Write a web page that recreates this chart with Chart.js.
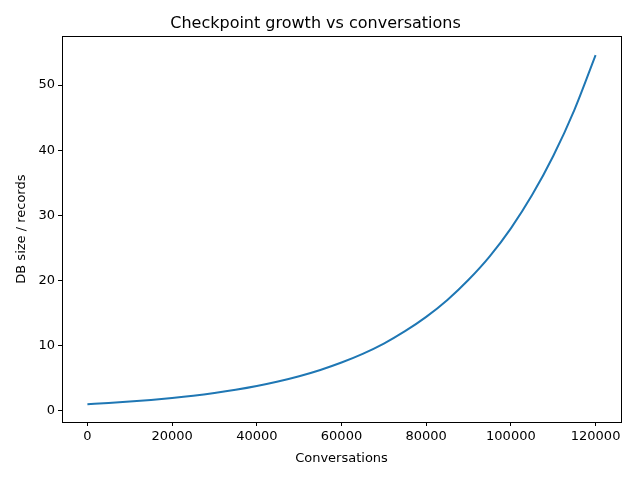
<!DOCTYPE html>
<html>
<head>
<meta charset="utf-8">
<script src="https://cdn.jsdelivr.net/npm/chart.js@4"></script>
<style>
  html, body { margin: 0; padding: 0; background: #fff; }
  #wrap { width: 640px; height: 480px; }
</style>
</head>
<body>
<div id="wrap"><canvas id="ctx" width="640" height="480"></canvas></div>
<script>
// values
const conversations = [0, 5000, 10000, 15000, 20000, 25000, 30000, 35000, 40000, 45000, 50000, 55000, 60000,
  65000, 70000, 75000, 80000, 85000, 90000, 95000, 100000, 105000, 110000, 115000, 120000];
const dbSize = [1.0, 1.18, 1.40, 1.65, 1.95, 2.30, 2.72, 3.21, 3.79, 4.48, 5.29, 6.25, 7.39,
  8.72, 10.3, 12.2, 14.4, 17.0, 20.1, 23.7, 28.0, 33.1, 39.1, 46.2, 54.6];
const xTicks = [0, 20000, 40000, 60000, 80000, 100000, 120000];
const yTicks = [0, 10, 20, 30, 40, 50];

const FONT = "'DejaVu Sans', sans-serif";
Chart.defaults.font.family = FONT;
Chart.defaults.color = "#000";

// matplotlib style frame around the plot area
const frame = {
  id: "frame",
  afterDraw(chart) {
    const { ctx, chartArea: a } = chart;
    ctx.save();
    ctx.strokeStyle = "#000";
    ctx.lineWidth = 1;
    ctx.strokeRect(Math.round(a.left) + 0.5, Math.round(a.top) + 0.5,
      Math.round(a.right - a.left), Math.round(a.bottom - a.top));
    ctx.restore();
  },
};

let ctx = document.getElementById("ctx");
let chart = new Chart(ctx, {
  type: "line",
  data: {
    datasets: [
      {
        data: conversations.map((x, i) => ({ x: x, y: dbSize[i] })),
        borderColor: "#1f77b4",
        borderWidth: 2,
        pointRadius: 0,
        cubicInterpolationMode: "monotone",
        fill: false,
      },
    ],
  },
  options: {
    responsive: false,
    animation: false,
    layout: { padding: { left: 10, right: 19, top: 0, bottom: 10 } },
    plugins: {
      legend: { display: false },
      tooltip: { enabled: false },
      title: {
        display: true,
        text: "Checkpoint growth vs conversations",
        font: { size: 16, weight: "normal" },
        color: "#000",
        padding: { top: 14, bottom: 3 },
      },
    },
    scales: {
      x: {
        type: "linear",
        min: -6000,
        max: 126000,
        afterBuildTicks: (s) => { s.ticks = xTicks.map((v) => ({ value: v })); },
        afterFit: (s) => { s.height = 48; },
        grid: { drawOnChartArea: false, drawTicks: true, tickLength: 4, color: "#000" },
        border: { display: true, color: "#000" },
        ticks: { font: { size: 13 }, maxRotation: 0, padding: 3, callback: (v) => String(v) },
        title: { display: true, text: "Conversations", font: { size: 13 }, padding: { top: 2 } },
      },
      y: {
        type: "linear",
        min: -1.74,
        max: 57.5,
        afterBuildTicks: (s) => { s.ticks = yTicks.map((v) => ({ value: v })); },
        afterFit: (s) => { s.width = 52; },
        grid: { drawOnChartArea: false, drawTicks: true, tickLength: 4, color: "#000" },
        border: { display: true, color: "#000" },
        ticks: { font: { size: 13 }, padding: 3 },
        title: { display: true, text: "DB size / records", font: { size: 13 }, padding: { bottom: 4 } },
      },
    },
  },
  plugins: [frame],
});
</script>
</body>
</html>
